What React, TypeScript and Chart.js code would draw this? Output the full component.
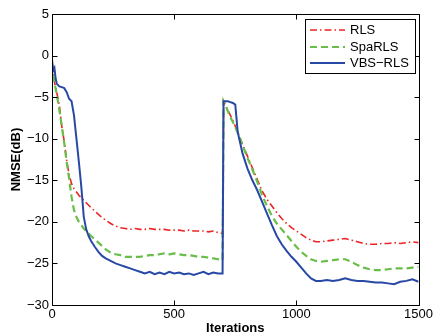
import React, { useEffect, useRef } from "react";
import { Chart, registerables } from "chart.js";

Chart.register(...registerables);

const ITERATIONS = [
  0, 5, 10, 15, 20, 30, 40, 50, 60, 70, 80, 90, 100, 110, 120, 130, 140, 150, 160, 175, 190, 205, 220,
  240, 260, 280, 300, 320, 340, 360, 380, 400, 420, 440, 460, 480, 500, 520, 540, 560, 580, 600, 620, 640, 660, 680, 698,
  702, 710, 720, 730, 740, 750, 760, 780, 800, 820, 840, 860, 880, 900, 920, 940, 960, 980, 1000, 1020, 1040, 1060, 1080, 1100,
  1125, 1150, 1175, 1200, 1225, 1250, 1275, 1300, 1325, 1350, 1375, 1400, 1425, 1450, 1475, 1500,
];

const RLS = [
  -1.0, -2.3, -3.2, -3.8, -4.5, -6.0, -8.5, -10.3, -12.6, -14.3, -15.4, -16.0, -16.4, -16.8, -17.1, -17.4, -17.7, -18.0, -18.3, -18.7, -19.1, -19.5, -19.8,
  -20.2, -20.5, -20.7, -20.8, -20.9, -20.8, -20.9, -20.9, -20.8, -20.9, -20.9, -20.9, -21.0, -21.0, -21.0, -21.1, -21.0, -21.1, -21.1, -21.1, -21.2, -21.1, -21.3, -21.4,
  -5.5, -6.0, -6.6, -7.2, -7.8, -8.5, -9.2, -10.7, -12.1, -13.5, -14.9, -16.3, -17.3, -18.1, -18.9, -19.6, -20.2, -20.7, -21.1, -21.5, -21.9, -22.2, -22.4, -22.4,
  -22.3, -22.2, -22.1, -22.0, -22.2, -22.4, -22.6, -22.7, -22.7, -22.6, -22.6, -22.5, -22.6, -22.5, -22.4, -22.5,
];

const SPA_RLS = [
  -1.0, -2.3, -3.2, -4.0, -4.8, -6.5, -8.5, -10.5, -12.8, -14.8, -17.0, -18.6, -19.4, -20.0, -20.4, -20.8, -21.1, -21.4, -21.7, -22.1, -22.5, -22.9, -23.3,
  -23.7, -23.9, -24.0, -24.2, -24.2, -24.2, -24.2, -24.1, -24.0, -24.0, -23.9, -23.8, -23.9, -23.8, -23.9, -24.0, -24.0, -24.1, -24.2, -24.2, -24.3, -24.4, -24.5, -24.6,
  -5.5, -6.0, -6.7, -7.4, -8.0, -8.6, -9.3, -10.8, -12.3, -13.7, -15.2, -16.8, -18.1, -19.3, -20.2, -20.9, -21.6, -22.3, -23.0, -23.6, -24.1, -24.5, -24.7, -24.8,
  -24.7, -24.6, -24.5, -24.5, -24.8, -25.2, -25.5, -25.7, -25.8, -25.8, -25.7, -25.6, -25.6, -25.6, -25.5, -25.4,
];

const VBS_RLS = [
  -0.5, -1.8, -1.5, -2.8, -3.4, -3.7, -3.8, -3.9, -4.4, -5.2, -5.5, -7.2, -10.0, -12.8, -15.8, -19.4, -20.9, -21.7, -22.3, -23.0, -23.6, -24.1, -24.4,
  -24.7, -25.0, -25.2, -25.4, -25.6, -25.8, -26.0, -26.2, -26.0, -26.3, -26.1, -26.3, -26.0, -26.2, -26.1, -26.3, -26.2, -26.4, -26.2, -26.0, -26.3, -26.1, -26.2, -26.2,
  -5.5, -5.5, -5.5, -5.6, -5.7, -5.9, -9.2, -11.8, -13.6, -15.0, -16.2, -17.6, -19.0, -20.4, -21.7, -22.7, -23.5, -24.2, -24.8, -25.5, -26.2, -26.8, -27.1, -27.1,
  -27.0, -27.1, -27.0, -26.8, -27.0, -27.1, -27.1, -27.2, -27.3, -27.3, -27.4, -27.5, -27.2, -27.1, -26.9, -27.2,
];

const SERIES_LABELS = ["RLS", "SpaRLS", "VBS\u2212RLS"];
const X_TICKS = [0, 500, 1000, 1500];
const Y_TICKS = [5, 0, -5, -10, -15, -20, -25, -30];

const FONT = "'Liberation Sans', Arial, Helvetica, sans-serif";

const framePlugin = {
  id: "frameAndLegend",
  afterDatasetsDraw(chart: any) {
    const { ctx, chartArea } = chart;
    const { left, right, top, bottom } = chartArea;
    const xs = chart.scales.x;
    const ys = chart.scales.y;
    ctx.save();
    ctx.strokeStyle = "#000";
    ctx.lineWidth = 1;
    ctx.setLineDash([]);
    ctx.beginPath();
    const L = Math.round(left) + 0.5;
    const R = Math.round(right) + 0.5;
    const T = Math.round(top) + 0.5;
    const B = Math.round(bottom) + 0.5;
    ctx.rect(L, T, R - L, B - T);
    const tl = 5;
    for (const v of X_TICKS) {
      const px = Math.round(xs.getPixelForValue(v)) + 0.5;
      ctx.moveTo(px, B);
      ctx.lineTo(px, B - tl);
      ctx.moveTo(px, T);
      ctx.lineTo(px, T + tl);
    }
    for (const v of Y_TICKS) {
      const py = Math.round(ys.getPixelForValue(v)) + 0.5;
      ctx.moveTo(L, py);
      ctx.lineTo(L + tl, py);
      ctx.moveTo(R, py);
      ctx.lineTo(R - tl, py);
    }
    ctx.stroke();

    // legend
    const bx = 305.5, by = 19.5, bw = 110, bh = 54;
    ctx.fillStyle = "#fff";
    ctx.fillRect(bx, by, bw, bh);
    ctx.strokeRect(bx, by, bw, bh);
    ctx.font = `13px ${FONT}`;
    ctx.textBaseline = "middle";
    ctx.textAlign = "left";
    const rows = [30, 47, 63];
    chart.data.datasets.forEach((ds: any, i: number) => {
      const y = rows[i];
      ctx.save();
      ctx.strokeStyle = ds.borderColor;
      ctx.lineWidth = ds.borderWidth;
      ctx.setLineDash(ds.borderDash || []);
      ctx.beginPath();
      ctx.moveTo(310, y);
      ctx.lineTo(345, y);
      ctx.stroke();
      ctx.restore();
      ctx.fillStyle = "#000";
      ctx.fillText(ds.label, 350, y + 0.5);
    });
    ctx.restore();
  },
};

export default function App() {
  const ref = useRef<HTMLCanvasElement | null>(null);
  useEffect(() => {
    if (!ref.current) return;
    const chart = new Chart(ref.current, {
      type: "line",
      data: {
        labels: ITERATIONS,
        datasets: [
          {
            label: SERIES_LABELS[0],
            data: ITERATIONS.map((x, i) => ({ x, y: RLS[i] })),
            borderColor: "rgb(236,36,36)",
            borderWidth: 1.6,
            borderDash: [7, 3, 1.5, 3],
            pointRadius: 0,
            tension: 0,
            order: 3,
          },
          {
            label: SERIES_LABELS[1],
            data: ITERATIONS.map((x, i) => ({ x, y: SPA_RLS[i] })),
            borderColor: "rgb(104,190,72)",
            borderWidth: 2.2,
            borderDash: [7, 4],
            pointRadius: 0,
            tension: 0,
            order: 2,
          },
          {
            label: SERIES_LABELS[2],
            data: ITERATIONS.map((x, i) => ({ x, y: VBS_RLS[i] })),
            borderColor: "rgb(40,72,165)",
            borderWidth: 2,
            pointRadius: 0,
            tension: 0,
            order: 1,
          },
        ],
      },
      options: {
        animation: false,
        responsive: false,
        events: [],
        layout: { padding: { left: 0, right: 15, top: 14, bottom: 0 } },
        plugins: { legend: { display: false }, tooltip: { enabled: false } },
        scales: {
          x: {
            type: "linear",
            min: 0,
            max: 1500,
            afterBuildTicks: (s: any) => {
              s.ticks = X_TICKS.map((v) => ({ value: v }));
            },
            afterFit: (s: any) => {
              s.height = 30;
            },
            grid: { display: false, drawTicks: false },
            border: { display: false },
            ticks: {
              padding: 2,
              color: "#000",
              maxRotation: 0,
              font: { family: FONT, size: 13, lineHeight: 1.2 },
              callback: (v: any) => String(v),
            },
            title: {
              display: true,
              text: "Iterations",
              color: "#000",
              font: { family: FONT, size: 13, weight: "bold", lineHeight: 1 },
              padding: { top: 0, bottom: 0 },
            },
          },
          y: {
            type: "linear",
            min: -30,
            max: 5,
            afterBuildTicks: (s: any) => {
              s.ticks = Y_TICKS.map((v) => ({ value: v }));
            },
            afterFit: (s: any) => {
              s.width = 52;
            },
            grid: { display: false, drawTicks: false },
            border: { display: false },
            ticks: {
              padding: 3,
              color: "#000",
              font: { family: FONT, size: 13 },
              callback: (v: any) => String(v).replace("-", "\u2212"),
            },
            title: {
              display: true,
              text: "NMSE(dB)",
              color: "#000",
              font: { family: FONT, size: 13, weight: "bold", lineHeight: 1 },
              padding: { top: 10, bottom: 0 },
            },
          },
        },
      },
      plugins: [framePlugin],
    } as any);
    return () => chart.destroy();
  }, []);
  return (
    <div style={{ position: "fixed", left: 0, top: 0, width: 435, height: 335, background: "#fff" }}>
      <canvas ref={ref} width={435} height={335} style={{ display: "block", width: 435, height: 335 }} />
    </div>
  );
}
